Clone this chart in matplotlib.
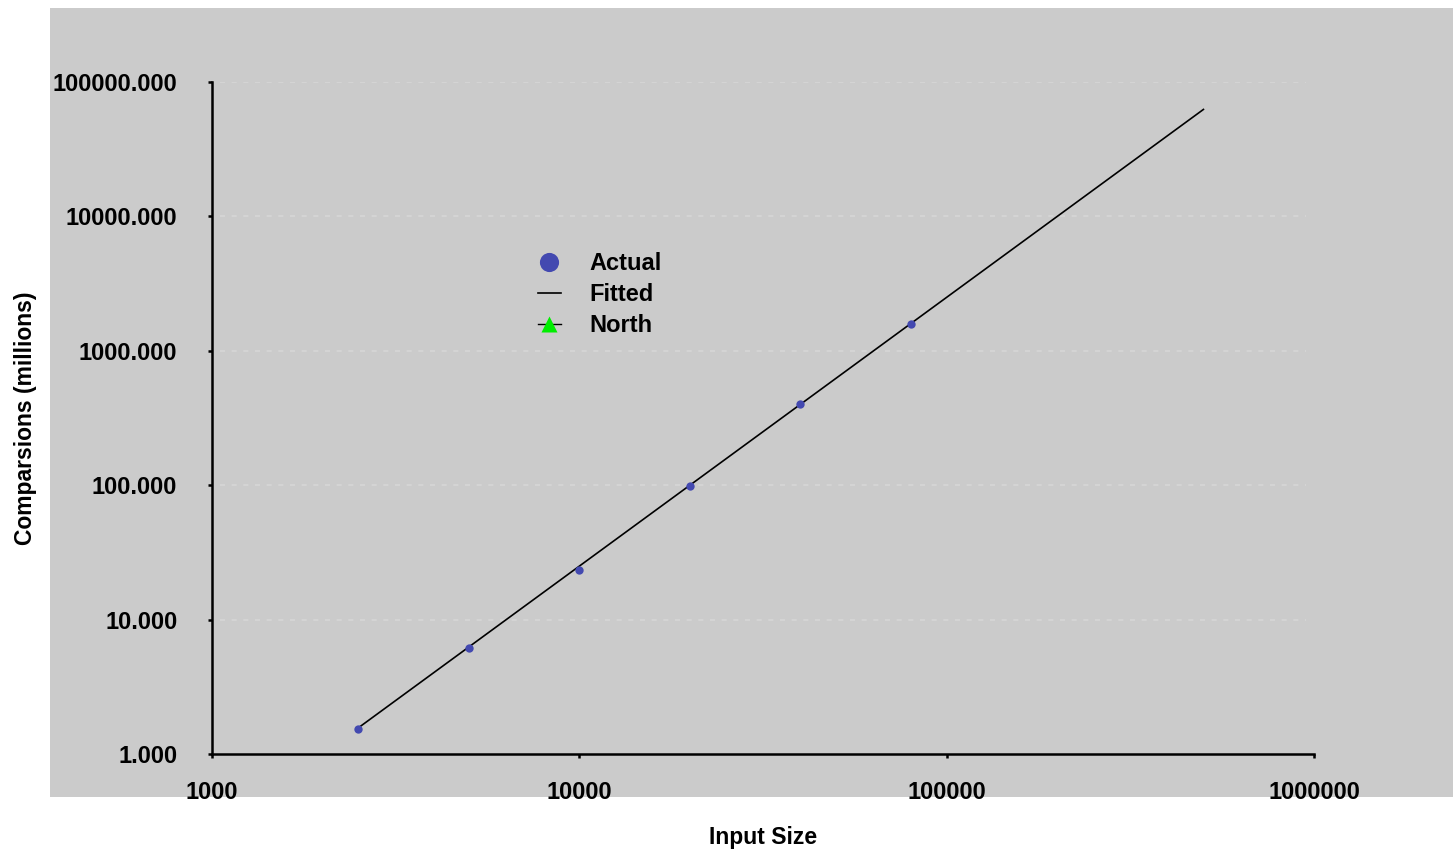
import matplotlib
matplotlib.use("Agg")
import matplotlib.pyplot as plt
from matplotlib.patches import Rectangle
from matplotlib.ticker import FixedLocator, FuncFormatter, NullLocator

plt.rcParams['font.family'] = ['Liberation Sans', 'DejaVu Sans']
plt.rcParams['font.weight'] = 'bold'

# Data
input_sizes = [2500, 5000, 10000, 20000, 40000, 80000]
actual_millions = [1.53, 6.15, 23.4, 98.6, 402, 1582]
fitted_x = [2500, 5000, 10000, 20000, 40000, 80000, 160000, 320000, 500000]
fitted_y = [1.5625, 6.25, 25.0, 100.0, 400.0, 1600.0, 6400.0, 25600.0, 62500.0]
north_x = []
north_y = []
x_ticks = [1000, 10000, 100000, 1000000]
y_ticks = [1, 10, 100, 1000, 10000, 100000]

W, H = 1453, 849
fig = plt.figure(figsize=(W / 100, H / 100), dpi=100)
fig.patch.set_facecolor('white')
bg = '#cbcbcb'
rect = Rectangle((50 / W, 1 - 797 / H), 1 - 50 / W, (797 - 8) / H,
                 transform=fig.transFigure, facecolor=bg, edgecolor='none',
                 zorder=-10)
fig.add_artist(rect)

ax = fig.add_axes([212 / W, 1 - 754 / H, (1314 - 212) / W, (754 - 82) / H])
ax.set_zorder(1)
ax.set_facecolor(bg)
ax.set_xscale('log')
ax.set_yscale('log')
ax.set_xlim(1000, 1000000)
ax.set_ylim(1, 100000)

ax.plot(fitted_x, fitted_y, color='black', lw=1.2, label='Fitted', zorder=3)
ax.plot(input_sizes, actual_millions, 'o', color='#4349b0', ms=6, mec='none',
        label='Actual', zorder=4)
ax.plot(north_x, north_y, '-', color='black', lw=1.0, marker='^', ms=12,
        mfc='#00ee00', mec='none', label='North')

ax.xaxis.set_major_locator(FixedLocator(x_ticks))
ax.yaxis.set_major_locator(FixedLocator(y_ticks))
ax.xaxis.set_minor_locator(NullLocator())
ax.yaxis.set_minor_locator(NullLocator())
ax.xaxis.set_major_formatter(FuncFormatter(lambda v, p: f"{int(round(v))}"))
ax.yaxis.set_major_formatter(FuncFormatter(lambda v, p: f"{v:.3f}"))

for yv in y_ticks[1:]:
    ax.plot([1050, 950000], [yv, yv], ls=(0, (3, 4)), color='#d6d6d6', lw=1.2, zorder=1)

for s in ['top', 'right']:
    ax.spines[s].set_visible(False)
for s in ['left', 'bottom']:
    ax.spines[s].set_linewidth(1.8)
    ax.spines[s].set_color('black')

ax.tick_params(axis='x', direction='out', length=3, width=1.8, pad=16.5,
               labelsize=17)
ax.tick_params(axis='y', direction='out', length=3, width=1.8, pad=22,
               labelsize=17)
for lab in ax.get_xticklabels() + ax.get_yticklabels():
    lab.set_fontweight('bold')

ax.set_xlabel('Input Size', fontsize=16.5, fontweight='bold', labelpad=16)
ax.set_ylabel('Comparsions (millions)', fontsize=16.5, fontweight='bold', labelpad=11)

handles, labels = ax.get_legend_handles_labels()
order = [labels.index('Actual'), labels.index('Fitted'), labels.index('North')]
leg = ax.legend([handles[i] for i in order], [labels[i] for i in order],
                loc='upper left', bbox_to_anchor=((517 - 212) / (1314 - 212), 1 - (231 - 82) / (754 - 82)),
                frameon=False, handlelength=0.95, handletextpad=1.2,
                labelspacing=0.33, markerscale=2.3, prop={'weight': 'bold', 'size': 17})
leg.legend_handles[2].set_markersize(12)

fig.savefig('out.png', dpi=100)
